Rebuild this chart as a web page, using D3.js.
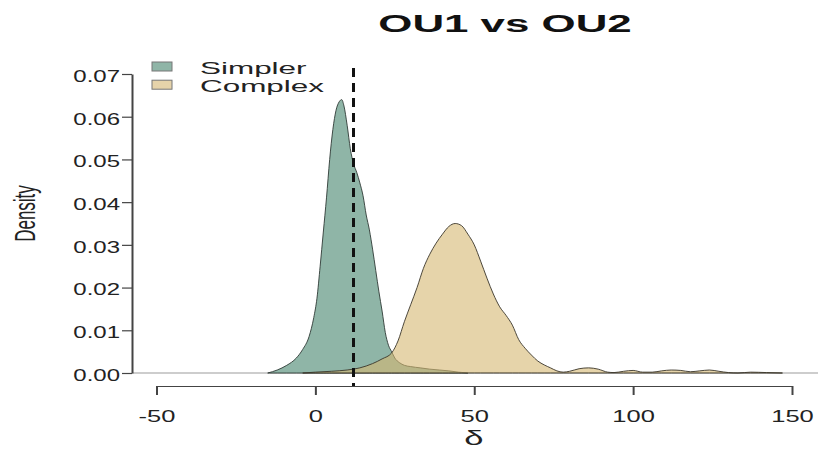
<!DOCTYPE html>
<html>
<head>
<meta charset="utf-8">
<script src="https://cdn.jsdelivr.net/npm/d3@7"></script>
<style>
  html, body { margin: 0; padding: 0; background: #fff; }
  svg { display: block; font-family: "Liberation Sans", Arial, Helvetica, sans-serif; }
</style>
</head>
<body>
<svg id="chart" width="818" height="450"></svg>
<script>
// Posterior densities of delta for the two models
const simplerDelta = [-15, -12, -9, -6, -4, -2, -0.5, 0.5, 1.5, 2.5, 3.5, 4.5, 5.5, 6.5, 7.5, 8.3, 9, 10, 11, 12, 13, 14, 15, 16, 17, 18, 19, 20, 21, 22, 23, 24, 25, 26.5, 28, 30, 33, 36, 39, 42, 45, 48];
const simplerDensity = [0, 0.0007, 0.0018, 0.0035, 0.0055, 0.0085, 0.013, 0.0175, 0.025, 0.033, 0.041, 0.050, 0.057, 0.0615, 0.0635, 0.064, 0.0625, 0.058, 0.0525, 0.049, 0.047, 0.0445, 0.0415, 0.037, 0.0335, 0.029, 0.024, 0.019, 0.0145, 0.0095, 0.0065, 0.005, 0.0035, 0.0024, 0.0018, 0.0015, 0.0012, 0.0009, 0.0007, 0.0005, 0.0002, 0];

const complexDelta = [-4, 0, 5, 10, 14, 18, 21, 24, 26, 28, 30, 32, 34, 36, 38, 40, 42, 44, 46, 48, 50, 52, 54, 56, 58, 60, 62, 64, 66, 68, 70, 72, 74, 76, 78, 80, 83, 86, 89, 92, 94, 97, 100, 103, 106, 109, 112, 115, 118, 121, 124, 127, 130, 133, 137, 142, 147];
const complexDensity = [0, 0.0002, 0.0004, 0.0007, 0.0012, 0.0022, 0.0033, 0.0047, 0.0075, 0.012, 0.016, 0.020, 0.0245, 0.0278, 0.0304, 0.0325, 0.0343, 0.035, 0.0345, 0.0325, 0.030, 0.0262, 0.0222, 0.0185, 0.0155, 0.0135, 0.0112, 0.0078, 0.0058, 0.0042, 0.0028, 0.0019, 0.0012, 0.0005, 0.0002, 0.0004, 0.001, 0.0012, 0.0009, 0.0002, 0.0001, 0.0004, 0.0006, 0.0002, 0.0002, 0.0005, 0.0007, 0.0006, 0.0003, 0.0005, 0.0007, 0.0004, 0.0001, 0, 0.0002, 0.0001, 0];

const seriesNames = ["Simpler", "Complex"];
const xTicks = [-50, 0, 50, 100, 150];
const xTickLabels = ["-50", "0", "50", "100", "150"];
const yTicks = [0, 0.01, 0.02, 0.03, 0.04, 0.05, 0.06, 0.07];
const yTickLabels = ["0.00", "0.01", "0.02", "0.03", "0.04", "0.05", "0.06", "0.07"];
const cutoff = 12;
const chartTitle = "OU1 vs OU2";
const xTitle = "\u03b4";
const yTitle = "Density";

const svg = d3.select("#chart");
const ink = "#444";

const x = d3.scaleLinear().domain([-50, 150]).range([156.5, 792]);
const y = d3.scaleLinear().domain([0, 0.07]).range([373, 74]);

// zero reference line across the plotting region
svg.append("line")
  .attr("x1", 132).attr("x2", 818)
  .attr("y1", y(0)).attr("y2", y(0))
  .attr("stroke", "#bdbdbd").attr("stroke-width", 1.5);

const area = d3.area()
  .x(d => x(d[0]))
  .y0(y(0))
  .y1(d => y(d[1]))
  .curve(d3.curveMonotoneX);

const simplerPts = simplerDelta.map((d, i) => [d, simplerDensity[i]]);
const complexPts = complexDelta.map((d, i) => [d, complexDensity[i]]);

svg.append("path")
  .attr("d", area(simplerPts))
  .attr("fill", "#8fb5a7")
  .attr("stroke", "#2f3a36").attr("stroke-width", 0.9);

svg.append("path")
  .attr("d", area(complexPts))
  .attr("fill", "rgba(213,183,113,0.6)")
  .attr("stroke", "#3a352a").attr("stroke-width", 0.9);

// vertical cutoff marker
svg.append("line")
  .attr("x1", x(cutoff)).attr("x2", x(cutoff))
  .attr("y1", 68).attr("y2", 386)
  .attr("stroke", "#111").attr("stroke-width", 3)
  .attr("stroke-dasharray", "9,6");

// x axis
const gx = svg.append("g")
  .attr("transform", "translate(0,386)")
  .call(d3.axisBottom(x).tickValues(xTicks).tickSize(9).tickSizeOuter(0)
    .tickFormat((d, i) => xTickLabels[i]));
gx.attr("font-family", null);
gx.select(".domain").attr("stroke", ink).attr("stroke-width", 1.2);
gx.selectAll(".tick line").attr("stroke", ink).attr("stroke-width", 2);
gx.selectAll(".tick text")
  .attr("fill", "#222")
  .attr("font-size", 17)
  .attr("x", 0).attr("y", 36).attr("dy", null)
  .attr("transform", "scale(1.5,1)");

// y axis
const gy = svg.append("g")
  .attr("transform", "translate(132,0)")
  .call(d3.axisLeft(y).tickValues(yTicks).tickSize(10).tickSizeOuter(0)
    .tickFormat((d, i) => yTickLabels[i]));
gy.attr("font-family", null);
gy.select(".domain").attr("stroke", ink).attr("stroke-width", 2);
gy.selectAll(".tick line").attr("stroke", ink).attr("stroke-width", 1.2);
gy.selectAll(".tick text")
  .attr("fill", "#222")
  .attr("font-size", 16)
  .attr("x", 0).attr("y", 7.3).attr("dy", null)
  .attr("text-anchor", "end")
  .attr("transform", "translate(-12,0) scale(1.5,1)");

// axis titles
svg.append("text")
  .attr("transform", "translate(474,445) scale(1.65,1)")
  .attr("text-anchor", "middle")
  .attr("font-size", 21)
  .attr("fill", "#222")
  .text(xTitle);

svg.append("text")
  .attr("transform", "translate(35,213.5) rotate(-90) scale(1,1.78)")
  .attr("text-anchor", "middle")
  .attr("font-size", 17)
  .attr("fill", "#222")
  .text(yTitle);

// title
svg.append("text")
  .attr("transform", "translate(505,32) scale(1.79,1)")
  .attr("text-anchor", "middle")
  .attr("font-size", 24.5)
  .attr("font-weight", "bold")
  .attr("fill", "#111")
  .text(chartTitle);

// legend
const legendFill = ["#8fb5a7", "#e6d3aa"];
const legend = svg.append("g");
seriesNames.forEach((name, i) => {
  legend.append("rect")
    .attr("x", 152).attr("y", 62 + i * 18.2)
    .attr("width", 20).attr("height", 9)
    .attr("fill", legendFill[i])
    .attr("stroke", "#777").attr("stroke-width", 1);
  legend.append("text")
    .attr("transform", `translate(200,${74 + i * 17.7}) scale(1.85,1)`)
    .attr("font-size", 17)
    .attr("fill", "#222")
    .text(name);
});
</script>
</body>
</html>
